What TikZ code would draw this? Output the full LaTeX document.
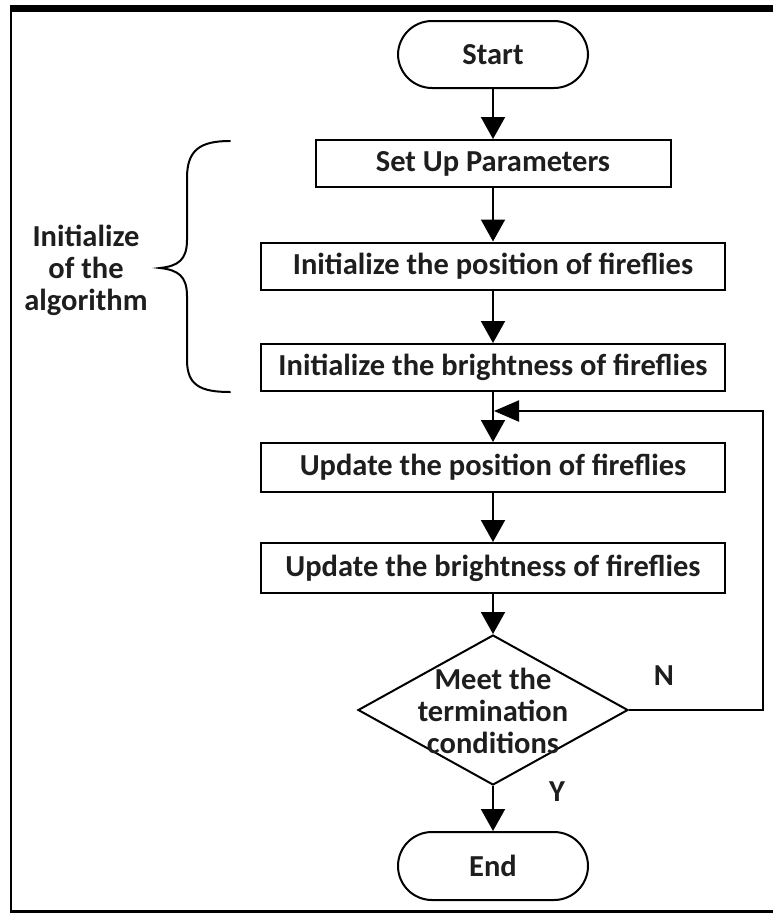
\documentclass[tikz,border=0pt]{standalone}
\usepackage{fontspec}
\setmainfont{Carlito}
\usetikzlibrary{arrows.meta,shapes.geometric}
\definecolor{txt}{HTML}{1E1E1E}
\begin{document}
\begin{tikzpicture}[x=1pt,y=-1pt,
  every node/.style={font=\fontsize{30.5}{32}\selectfont\bfseries, text=txt, inner sep=0pt},
  term/.style={draw, line width=2pt, rounded corners=34pt, minimum width=190pt, minimum height=67pt},
  proc/.style={draw, line width=2pt, rectangle, minimum height=47pt},
  dec/.style={draw, line width=2pt, diamond, minimum width=270pt, minimum height=150pt},
  flow/.style={line width=2pt, -{Triangle[length=22pt,width=24pt]}},
  lbl/.style={align=center}]
\useasboundingbox (0,0) rectangle (773,914);
% frame
\fill[black] (10,5) rectangle (773,12);
\draw[line width=2.5pt] (11,5) -- (11,912);
\draw[line width=2.5pt] (10,911.5) -- (773,911.5);
% nodes
\node[term] (start) at (493,54.5) {Start};
\node[proc, minimum width=355pt] (setup) at (493,163.5) {Set Up Parameters};
\node[proc, minimum width=464pt] (ipos) at (493,266) {Initialize the position of fireflies};
\node[proc, minimum width=464pt] (ibri) at (493,367.5) {Initialize the brightness of fireflies};
\node[proc, minimum width=464pt, minimum height=49pt] (upos) at (493,467.5) {Update the position of fireflies};
\node[proc, minimum width=464pt, minimum height=50pt] (ubri) at (493,568) {Update the brightness of fireflies};
\node[dec] (cond) at (493,710) {};
\node[lbl] (condtext) at (493,711) {Meet the\\termination\\conditions};
\node[term, minimum height=68pt] (end) at (493,866) {End};
\node (nlab) at (664,676) {N};
\node (ylab) at (557,792) {Y};
\node[lbl] (initlab) at (86,270) {Initialize\\of the\\algorithm};
\coordinate (join) at (494,411);
\coordinate (rc) at (763,710);
% connectors
\draw[flow] (start) -- (setup);
\draw[flow] (setup) -- (ipos);
\draw[flow] (ipos) -- (ibri);
\draw[flow] (ibri) -- (upos);
\draw[flow] (upos) -- (ubri);
\draw[flow] (ubri) -- (cond);
\draw[flow] (cond) -- (end);
\draw[line width=2pt, -{Triangle[length=25pt,width=21pt]}] (cond.east) -- (rc) |- (join);
% brace
\draw[line width=2pt, line cap=round]
  (230,141) .. controls (200,141) and (187,150) .. (187,178) -- (187,240)
  .. controls (187,260) and (178,266) .. (160,268)
  .. controls (178,270) and (187,276) .. (187,296) -- (187,360)
  .. controls (187,385) and (200,392) .. (230,392);
\end{tikzpicture}
\end{document}
